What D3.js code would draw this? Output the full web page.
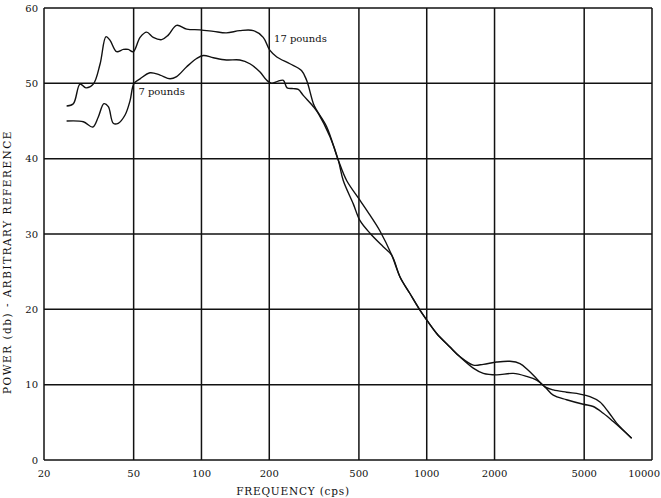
<!DOCTYPE html>
<html>
<head>
<meta charset="utf-8">
<script src="https://cdn.jsdelivr.net/npm/d3@7"></script>
<style>
  body { margin: 0; background: #fff; }
  svg { display: block; }
</style>
</head>
<body>
<svg width="661" height="498"></svg>
<script>
// Frequency ticks (cps) and power ticks (db)
var freqTicks = [20, 50, 100, 200, 500, 1000, 2000, 5000, 10000];
var powerTicks = [0, 10, 20, 30, 40, 50, 60];

// 17 pounds curve
var freq17 = [25.2, 27.0, 28.9, 30.7, 33.1, 35.5, 37.7, 39.3, 42.0, 45.0, 47.3, 49.8, 53.4, 57.1, 61.1,
  66.6, 71.2, 77.6, 86.0, 98.5, 113, 129, 148, 170, 188, 201, 216, 247, 278, 293, 314, 325, 360, 405,
  441, 505, 560, 620, 699, 761, 842, 933, 1016, 1107, 1268, 1405, 1609, 1783, 2043, 2341, 2594, 2823,
  3076, 3348, 3645, 4178, 4786, 5303, 5875, 6395, 6966, 8121];
var power17 = [47.0, 47.3, 49.9, 49.4, 49.9, 52.6, 56.2, 55.7, 54.2, 54.5, 54.5, 54.2, 56.1, 56.8, 56.1,
  55.8, 56.4, 57.7, 57.2, 57.1, 56.9, 56.7, 57.0, 57.0, 56.1, 54.4, 53.5, 52.6, 51.7, 50.4, 47.3, 46.4, 44.2, 39.8,
  37.1, 34.5, 32.5, 30.4, 27.2, 24.3, 22.1, 19.9, 18.3, 16.8, 15.0, 13.7, 12.6, 12.7, 13.0, 13.1, 12.8, 11.9,
  10.8, 9.7, 9.3, 9.0, 8.75, 8.4, 7.7, 6.4, 4.9, 2.9];

// 7 pounds curve
var freq7 = [25.2, 29.9, 32.9, 34.8, 36.9, 38.6, 40.6, 42.7, 45.8, 48.2, 50.2, 53.4, 59.1, 65.5, 72.5,
  77.6, 86.0, 95.2, 102, 113, 129, 148, 164, 182, 195, 205, 219, 231, 240, 256, 269, 283, 314, 330, 372,
  405, 426, 472, 505, 560, 641, 699, 761, 842, 933, 1016, 1107, 1268, 1405, 1609, 1783, 2043, 2421, 2777,
  3076, 3348, 3645, 4178, 4951, 5485, 6076, 6730, 8121];
var power7 = [45.0, 44.9, 44.2, 45.5, 47.3, 46.9, 44.7, 44.7, 45.8, 47.7, 50.0, 50.6, 51.4, 51.1, 50.6,
  50.9, 52.2, 53.3, 53.7, 53.4, 53.1, 53.1, 52.6, 51.5, 50.4, 50.0, 50.3, 50.4, 49.4, 49.3, 49.2, 48.4, 46.9, 46.0, 42.9,
  39.8, 37.1, 34.0, 31.8, 30.1, 28.3, 27.2, 24.3, 22.1, 19.9, 18.3, 16.8, 15.0, 13.7, 12.2, 11.5, 11.3, 11.5, 11.1,
  10.6, 9.7, 8.6, 8.0, 7.4, 7.1, 6.2, 5.1, 2.9];

var svg = d3.select("svg");
var margin = {top: 8, right: 9, bottom: 38, left: 44};
var width = 661 - margin.left - margin.right,
    height = 498 - margin.top - margin.bottom;

var x = d3.scaleLog().domain([20, 10000]).range([0, width]);
var y = d3.scaleLinear().domain([0, 60]).range([height, 0]);

var g = svg.append("g").attr("transform", "translate(" + margin.left + "," + margin.top + ")");

var font = "'DejaVu Serif', serif";

// grid
g.selectAll(".vgrid").data(freqTicks).enter().append("line")
    .attr("x1", function(d) { return x(d); })
    .attr("x2", function(d) { return x(d); })
    .attr("y1", 0).attr("y2", height)
    .attr("stroke", "#111").attr("stroke-width", 1.5);

g.selectAll(".hgrid").data(powerTicks).enter().append("line")
    .attr("x1", 0).attr("x2", width)
    .attr("y1", function(d) { return y(d); })
    .attr("y2", function(d) { return y(d); })
    .attr("stroke", "#111").attr("stroke-width", 1.5);

// tick labels (last one pulled in so it stays on the page)
g.selectAll(".xlab").data(freqTicks).enter().append("text")
    .attr("x", function(d, i) { return i == freqTicks.length - 1 ? width + 8 : x(d); })
    .attr("y", height + 17)
    .attr("text-anchor", function(d, i) { return i == freqTicks.length - 1 ? "end" : "middle"; })
    .attr("font-family", font).attr("font-size", 10)
    .attr("fill", "#111")
    .text(function(d) { return d; });

g.selectAll(".ylab").data(powerTicks).enter().append("text")
    .attr("x", -6)
    .attr("y", function(d) { return y(d) + 3.5; })
    .attr("text-anchor", "end")
    .attr("font-family", font).attr("font-size", 10)
    .attr("fill", "#111")
    .text(function(d) { return d; });

// axis titles
svg.append("text")
    .attr("x", 293).attr("y", 495)
    .attr("text-anchor", "middle")
    .attr("font-family", font).attr("font-size", 10.5)
    .attr("letter-spacing", 0.8)
    .attr("fill", "#111")
    .text("FREQUENCY (cps)");

svg.append("text")
    .attr("transform", "translate(11,262) rotate(-90)")
    .attr("text-anchor", "middle")
    .attr("font-family", font).attr("font-size", 10.5)
    .attr("letter-spacing", 1.5)
    .attr("fill", "#111")
    .text("POWER (db) - ARBITRARY REFERENCE");

// curves
var line = d3.line()
    .x(function(d) { return x(d[0]); })
    .y(function(d) { return y(d[1]); })
    .curve(d3.curveCatmullRom.alpha(0.5));

g.append("path")
    .datum(d3.zip(freq17, power17))
    .attr("d", line)
    .attr("fill", "none").attr("stroke", "#111").attr("stroke-width", 1.4);

g.append("path")
    .datum(d3.zip(freq7, power7))
    .attr("d", line)
    .attr("fill", "none").attr("stroke", "#111").attr("stroke-width", 1.4);

// curve labels
g.append("text")
    .attr("x", x(210)).attr("y", y(55.5))
    .attr("font-family", font).attr("font-size", 10)
    .attr("fill", "#111")
    .text("17 pounds");

g.append("text")
    .attr("x", x(52.5)).attr("y", y(48.5))
    .attr("font-family", font).attr("font-size", 10)
    .attr("fill", "#111")
    .text("7 pounds");
</script>
</body>
</html>
